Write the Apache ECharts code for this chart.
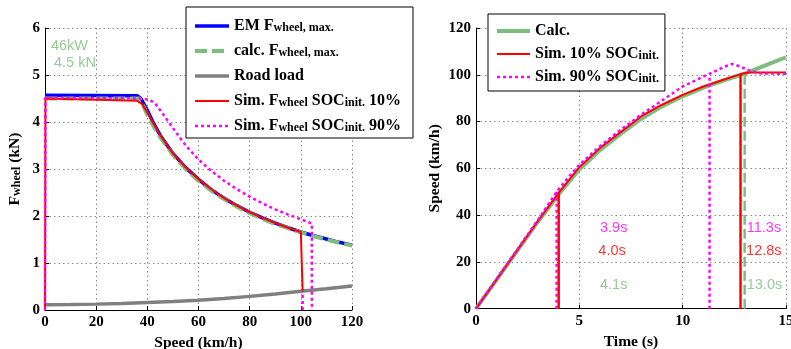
<!DOCTYPE html>
<html>
<head>
<meta charset="utf-8">
<script src="https://cdn.jsdelivr.net/npm/echarts@6/dist/echarts.min.js"></script>
<style>
html,body{margin:0;padding:0;background:#fff;}
#c{width:791px;height:349px;}
</style>
</head>
<body>
<div id="c"></div>
<script>
// ---------- Left plot: wheel force vs speed ----------
const forceXTicks = [0, 20, 40, 60, 80, 100, 120];
const forceYTicks = [0, 1, 2, 3, 4, 5, 6];
const emForce = [[0,4.57],[36,4.56],[37.5,4.5],[39,4.35],[40,4.25],[42,4.02],[45,3.72],[50,3.33],[55,3.03],[60,2.78],[65,2.56],[70,2.38],[75,2.22],[80,2.08],[85,1.96],[90,1.85],[95,1.75],[100,1.66],[105,1.58],[110,1.51],[115,1.44],[120,1.38]];
const calcForce = [[0,4.5],[37,4.5],[38,4.4],[40,4.15],[42,3.95],[45,3.68],[50,3.3],[55,3.0],[60,2.75],[65,2.54],[70,2.36],[75,2.2],[80,2.06],[85,1.94],[90,1.83],[95,1.74],[100,1.65],[105,1.57],[110,1.5],[115,1.43],[120,1.37]];
const roadLoad = [[0,0.11],[10,0.115],[20,0.125],[30,0.14],[40,0.16],[50,0.18],[60,0.21],[70,0.245],[80,0.29],[90,0.34],[100,0.4],[110,0.45],[120,0.51]];
const sim10Force = [[0,0],[0.2,4.5],[36,4.45],[38,4.38],[40,4.2],[42,4.0],[45,3.72],[50,3.33],[55,3.03],[60,2.78],[65,2.57],[70,2.38],[75,2.22],[80,2.08],[85,1.96],[90,1.85],[95,1.75],[100,1.66],[100.7,0.4]];
const sim90Force = [[0,0],[0.1,4.52],[38,4.5],[41,4.47],[43,4.4],[46,4.18],[50,3.87],[55,3.5],[60,3.2],[65,2.96],[70,2.75],[75,2.57],[80,2.41],[85,2.27],[90,2.14],[95,2.03],[100,1.93],[104.3,1.84],[104.3,0],'-',[100.7,0],[100.7,0.4]];
const leftNotes = [['46kW',2.3,5.62],['4.5 kN',3.5,5.26]];

// ---------- Right plot: speed vs time ----------
const timeTicks = [0, 5, 10, 15];
const speedTicks = [0, 20, 40, 60, 80, 100, 120];
const calcSpeed = [[0,0],[1,12.4],[2,24.8],[3,37.2],[4.1,50],[5,59.5],[6,67.8],[7,74.7],[8,81.2],[9,86.5],[10,90.8],[11,94.5],[12,97.6],[13,100.5],[14,104],[15,107.5]];
const sim10Speed = [[0,0],[1,12.5],[2,25],[3,37.5],[4,49.5],[5,60.5],[6,68.7],[7,75.5],[8,82.3],[9,87.2],[10,91.4],[11,95],[12,98],[12.8,100.3],[13.2,101],[15,101]];
const sim90Speed = [[0,0],[1,12.7],[2,25.3],[3,38],[3.9,50],[4.5,56.5],[5,61.5],[6,69.5],[7,76.5],[8,83],[9,89],[10,95],[11,99.2],[11.5,101.2],[12,103.4],[12.4,104.6],[12.8,103.5],[13.3,101.5],[13.8,100.6],[15,100.4]];
const calcMarks = [[13.0,100.5]];
const sim10Marks = [[4.0,49.5],[12.8,100.3]];
const sim90Marks = [[3.9,50],[11.3,100]];
const rightNotes = [['3.9s',6.0,34.5,'#ff00ff'],['4.0s',5.92,24.7,'#ff0000'],['4.1s',6.0,10.1,'#7dbd7d'],['11.3s',13.1,34.5,'#ff00ff'],['12.8s',13.07,24.7,'#ff0000'],['13.0s',13.1,10.1,'#7dbd7d']];

const GREEN = '#7dbd7d', BLUE = '#0000ff', GRAY = '#808080', RED = '#ff0000', MAG = '#ff00ff';
const SERIF = 'Liberation Serif', SANS = 'Liberation Sans';

function vlines(marks) {
  const out = [];
  marks.forEach((m, i) => { if (i) out.push('-'); out.push([m[0], 0], [m[0], m[1]]); });
  return out;
}

const legendRich = {
  m: {fontFamily: SERIF, fontWeight: 'bold', fontSize: 16, lineHeight: 16, verticalAlign: 'top', color: '#000'},
  s: {fontFamily: SERIF, fontWeight: 'bold', fontSize: 12, lineHeight: 12, verticalAlign: 'bottom', padding: [10,0,0,0], color: '#000'}
};
const legendRich2 = {
  m: legendRich.m,
  s: Object.assign({}, legendRich.s, {padding: [9,0,0,0]})
};
const legendText = {
  'EM F': '{m|EM F}{s|wheel, max.}',
  'calc. F': '{m|calc. F}{s|wheel, max.}',
  'Road load': '{m|Road load}{s| }',
  'Sim. 10': '{m|Sim. F}{s|wheel}{m| SOC}{s|init.}{m| 10%}',
  'Sim. 90': '{m|Sim. F}{s|wheel}{m| SOC}{s|init.}{m| 90%}',
  'Calc.': '{m|Calc.}{s| }',
  'Sim. 10% SOC': '{m|Sim. 10% SOC}{s|init.}',
  'Sim. 90% SOC': '{m|Sim. 90% SOC}{s|init.}'
};

const axisLabelStyle = {fontFamily: SERIF, fontWeight: 'bold', fontSize: 15, color: '#000', margin: 5};
const splitLineStyle = {show: true, lineStyle: {color: '#8a8a8a', type: [1.5, 3], width: 1}};
const axisLineStyle = {show: true, lineStyle: {color: '#000', width: 1}};
const tickStyle = {show: true, inside: true, length: 4, lineStyle: {color: '#000'}};
const nameStyle = {fontFamily: SERIF, fontWeight: 'bold', fontSize: 15.5, color: '#000'};

function noteSeries(notes, xi, yi, color) {
  return {
    type: 'scatter', xAxisIndex: xi, yAxisIndex: yi, symbolSize: 0, silent: true, z: 10,
    data: notes.map(n => ({name: n[0], value: [n[1], n[2]], label: {color: n[3] || color}})),
    label: {show: true, position: 'right', distance: 0, formatter: p => p.name, fontFamily: SANS, fontSize: 14.5, color: color}
  };
}

function lineSeries(name, xi, data, color, width, type) {
  return {
    name: name, type: 'line', xAxisIndex: xi, yAxisIndex: xi, data: data, symbol: 'none', connectNulls: false,
    lineStyle: {color: color, width: width, type: type || 'solid'},
    itemStyle: {color: color, opacity: 0}
  };
}

const legendLine = {width: 'inherit', type: 'inherit', color: 'inherit'};

const option = {
  animation: false,
  backgroundColor: '#fff',
  grid: [
    {left: 45, top: 28, width: 307, height: 282, outerBoundsMode: 'none', containLabel: false},
    {left: 476, top: 28, width: 310, height: 280.7, outerBoundsMode: 'none', containLabel: false}
  ],
  legend: [
    {
      data: ['EM F', 'calc. F', 'Road load', 'Sim. 10', 'Sim. 90'],
      orient: 'vertical', left: 186, top: 7, itemWidth: 34, itemHeight: 14, itemGap: 3,
      padding: [5, 12, 4, 7], borderColor: '#000', borderWidth: 1, backgroundColor: '#fff',
      itemStyle: {opacity: 0}, lineStyle: legendLine,
      formatter: n => legendText[n], textStyle: {rich: legendRich}, selectedMode: false
    },
    {
      data: ['Calc.', 'Sim. 10% SOC', 'Sim. 90% SOC'],
      orient: 'vertical', left: 488, top: 14, itemWidth: 33, itemHeight: 14, itemGap: 2,
      padding: [4, 6, 6, 7], borderColor: '#000', borderWidth: 1, backgroundColor: '#fff',
      itemStyle: {opacity: 0}, lineStyle: legendLine,
      formatter: n => legendText[n], textStyle: {rich: legendRich2}, selectedMode: false
    }
  ],
  xAxis: [
    {gridIndex: 0, type: 'value', min: forceXTicks[0], max: forceXTicks[forceXTicks.length-1], interval: 20,
     axisLine: axisLineStyle, axisTick: tickStyle, splitLine: splitLineStyle, axisLabel: axisLabelStyle,
     name: 'Speed (km/h)', nameLocation: 'middle', nameGap: 23, nameTextStyle: nameStyle},
    {gridIndex: 1, type: 'value', min: timeTicks[0], max: timeTicks[timeTicks.length-1], interval: 5,
     axisLine: axisLineStyle, axisTick: tickStyle, splitLine: splitLineStyle, axisLabel: axisLabelStyle,
     name: 'Time (s)', nameLocation: 'middle', nameGap: 23, nameTextStyle: nameStyle}
  ],
  yAxis: [
    {gridIndex: 0, type: 'value', min: forceYTicks[0], max: forceYTicks[forceYTicks.length-1], interval: 1,
     axisLine: axisLineStyle, axisTick: tickStyle, splitLine: splitLineStyle, axisLabel: axisLabelStyle,
     name: '{m|F}{s|wheel}{m| (kN)}', nameLocation: 'middle', nameGap: 22,
     nameTextStyle: {rich: {
       m: {fontFamily: SERIF, fontWeight: 'bold', fontSize: 15.5, lineHeight: 16, verticalAlign: 'top', color: '#000'},
       s: {fontFamily: SERIF, fontWeight: 'bold', fontSize: 12, lineHeight: 12, verticalAlign: 'bottom', padding: [11,0,0,0], color: '#000'}
     }}},
    {gridIndex: 1, type: 'value', min: speedTicks[0], max: speedTicks[speedTicks.length-1], interval: 20,
     axisLine: axisLineStyle, axisTick: tickStyle, splitLine: splitLineStyle, axisLabel: axisLabelStyle,
     name: 'Speed (km/h)', nameLocation: 'middle', nameGap: 33, nameTextStyle: nameStyle}
  ],
  series: [
    lineSeries('EM F', 0, emForce, BLUE, 3.5),
    lineSeries('calc. F', 0, calcForce, GREEN, 4, [12, 5]),
    lineSeries('Road load', 0, roadLoad, GRAY, 3.5),
    lineSeries('Sim. 10', 0, sim10Force, RED, 2),
    lineSeries('Sim. 90', 0, sim90Force, MAG, 2.5, [3, 3]),
    noteSeries(leftNotes, 0, 0, GREEN),

    lineSeries('Calc.', 1, calcSpeed, GREEN, 4),
    lineSeries('Calc. mark', 1, vlines(calcMarks), GREEN, 2.5, [10, 4]),
    lineSeries('Sim. 10% SOC', 1, sim10Speed, RED, 2),
    lineSeries('Sim. 10 mark', 1, vlines(sim10Marks), RED, 2.5),
    lineSeries('Sim. 90% SOC', 1, sim90Speed, MAG, 2.5, [3, 3]),
    lineSeries('Sim. 90 mark', 1, vlines(sim90Marks), MAG, 2.5, [3, 3]),
    noteSeries(rightNotes, 1, 1, GREEN)
  ]
};

const chart = echarts.init(document.getElementById('c'), null, {renderer: 'canvas'});
chart.setOption(option);
</script>
</body>
</html>
